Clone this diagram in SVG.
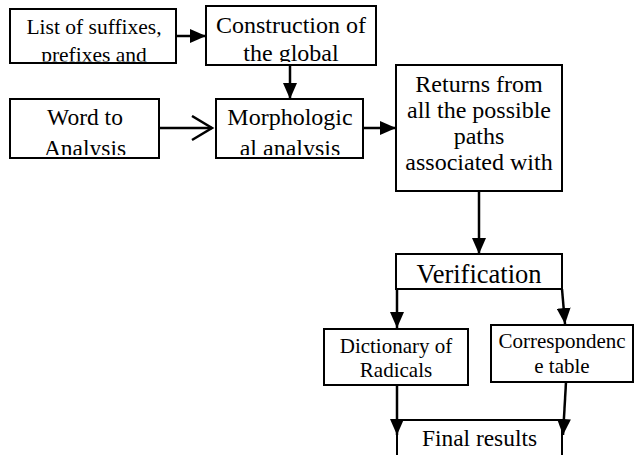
<svg xmlns="http://www.w3.org/2000/svg" width="635" height="455" viewBox="0 0 635 455">
<style>
.box{fill:#fff;stroke:#000;stroke-width:2}
.t{fill:#000;text-anchor:middle;font-family:'Liberation Serif','Times New Roman',Times,serif}
.c{fill:none;stroke:#000;stroke-width:2.5}
</style>
<defs>
<marker id="ah" markerUnits="userSpaceOnUse" markerWidth="16" markerHeight="14" refX="16" refY="7" orient="auto" viewBox="0 0 16 14">
<path d="M0,0 L16,7 L0,14 Z" fill="#000"/>
</marker>
<marker id="oh" markerUnits="userSpaceOnUse" markerWidth="24" markerHeight="28" refX="21" refY="13" orient="auto" viewBox="0 0 24 28">
<path d="M1,1 L21,13 L1,25" fill="none" stroke="#000" stroke-width="2.5"/>
</marker>
<clipPath id="c1"><rect x="11" y="10" width="164" height="51.5"/></clipPath>
<clipPath id="c2"><rect x="207" y="7" width="168" height="55"/></clipPath>
<clipPath id="c3"><rect x="11" y="100" width="147" height="55"/></clipPath>
<clipPath id="c4"><rect x="217" y="100" width="145" height="55"/></clipPath>
<clipPath id="c5"><rect x="397" y="66" width="164" height="124"/></clipPath>
</defs>
<g id="n-list">
<rect class="box" x="10" y="9" width="166" height="54"/>
<g clip-path="url(#c1)">
<text class="t" x="94" y="34" font-size="21.5">List of suffixes,</text>
<text class="t" x="94" y="62" font-size="21.5">prefixes and</text>
</g>
</g>
<g id="n-construction">
<rect class="box" x="206" y="6" width="170" height="59"/>
<g clip-path="url(#c2)">
<text class="t" x="291" y="33" font-size="24">Construction of</text>
<text class="t" x="291" y="61" font-size="24">the global</text>
</g>
</g>
<g id="n-word">
<rect class="box" x="10" y="99" width="149" height="59"/>
<g clip-path="url(#c3)">
<text class="t" x="85" y="125" font-size="23.5">Word to</text>
<text class="t" x="85" y="156" font-size="23.5">Analysis</text>
</g>
</g>
<g id="n-morph">
<rect class="box" x="216" y="99" width="147" height="59"/>
<g clip-path="url(#c4)">
<text class="t" x="290" y="125" font-size="24">Morphologic</text>
<text class="t" x="290" y="156" font-size="24">al analysis</text>
</g>
</g>
<g id="n-returns">
<rect class="box" x="396" y="65" width="166" height="126"/>
<g clip-path="url(#c5)">
<text class="t" x="479" y="92" font-size="24">Returns from</text>
<text class="t" x="479" y="118" font-size="24">all the possible</text>
<text class="t" x="479" y="144" font-size="24">paths</text>
<text class="t" x="479" y="170" font-size="24">associated with</text>
</g>
</g>
<g id="n-verification">
<rect class="box" x="396" y="254" width="166" height="35"/>
<text class="t" x="479" y="283" font-size="26.5">Verification</text>
</g>
<g id="n-dictionary">
<rect class="box" x="324" y="329" width="144" height="56"/>
<text class="t" x="396" y="353" font-size="21">Dictionary of</text>
<text class="t" x="396" y="377" font-size="21">Radicals</text>
</g>
<g id="n-correspondence">
<rect class="box" x="491" y="325" width="142" height="57"/>
<text class="t" x="562" y="348" font-size="21">Correspondenc</text>
<text class="t" x="562" y="373" font-size="21">e table</text>
</g>
<g id="n-final">
<path class="box" d="M397,456 V420 H562 V456"/>
<text class="t" x="479.5" y="446" font-size="23.4">Final results</text>
</g>
<g id="connectors">
<line class="c" x1="176" y1="36" x2="206" y2="36" marker-end="url(#ah)"/>
<line class="c" x1="290" y1="65" x2="290" y2="99" marker-end="url(#ah)"/>
<line class="c" x1="159" y1="128" x2="212" y2="128" marker-end="url(#oh)"/>
<line class="c" x1="363" y1="128" x2="396" y2="128" marker-end="url(#ah)"/>
<line class="c" x1="479" y1="191" x2="479" y2="254" marker-end="url(#ah)"/>
<line class="c" x1="397" y1="289" x2="397" y2="328" marker-end="url(#ah)"/>
<line class="c" x1="562" y1="289" x2="565" y2="324" marker-end="url(#ah)"/>
<line class="c" x1="397" y1="385" x2="397" y2="435" marker-end="url(#ah)"/>
<line class="c" x1="566" y1="382" x2="563" y2="435" marker-end="url(#ah)"/>
</g>
</svg>
